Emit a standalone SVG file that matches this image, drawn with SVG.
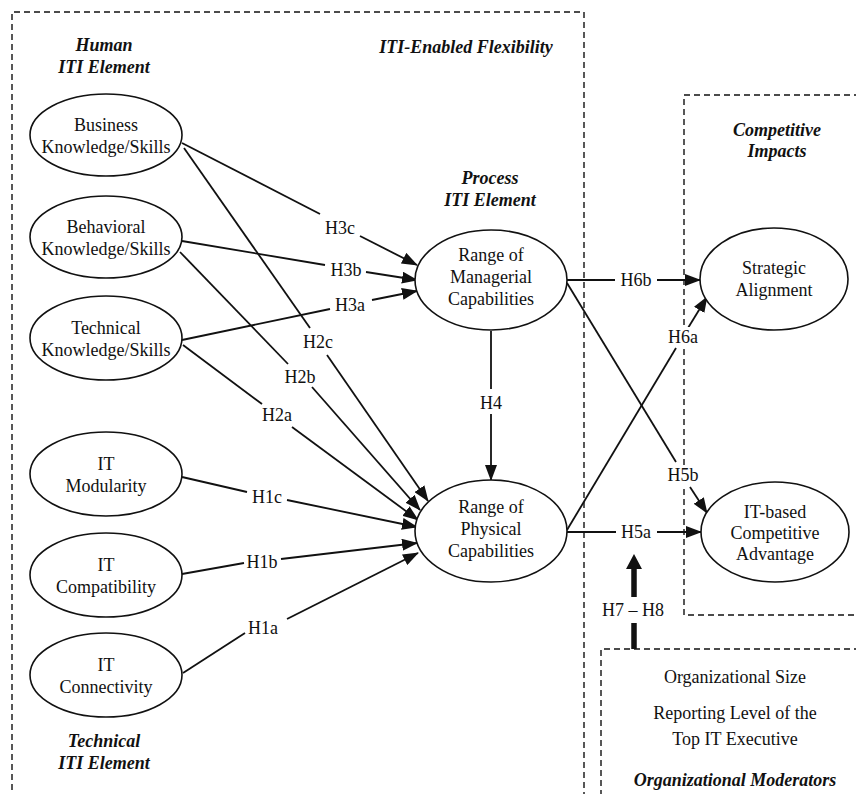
<svg xmlns="http://www.w3.org/2000/svg" width="856" height="794" viewBox="0 0 856 794">
<style>
text{font-family:"Liberation Serif","Times New Roman",serif;font-size:18px;fill:#111;text-anchor:middle}
.h{font-weight:bold;font-style:italic}
.node ellipse{fill:#fff;stroke:#111;stroke-width:1.6}
.box{fill:none;stroke:#111;stroke-width:1.4;stroke-dasharray:6 4}
#connectors line{stroke:#111;stroke-width:1.8}
.ar{marker-end:url(#arr)}
.bg{fill:#fff}
</style>
<defs>
<marker id="arr" markerUnits="userSpaceOnUse" markerWidth="16" markerHeight="12" viewBox="0 0 16 12" refX="15" refY="6" orient="auto">
<path d="M0,0 L16,6 L0,12 Z" fill="#111"/>
</marker>
</defs>
<rect width="856" height="794" fill="#fff"/>

<g id="frames">
<path class="box" d="M12,800 V12 H584 V800"/>
<path class="box" d="M860,95 H684 V615 H860"/>
<path class="box" d="M860,649 H601 V800"/>
</g>

<g id="headers">
<text class="h" x="104" y="51">Human</text>
<text class="h" x="104" y="73">ITI Element</text>
<text class="h" x="466" y="53">ITI-Enabled Flexibility</text>
<text class="h" x="490" y="184">Process</text>
<text class="h" x="490" y="206">ITI Element</text>
<text class="h" x="777" y="136">Competitive</text>
<text class="h" x="777" y="157">Impacts</text>
<text class="h" x="104" y="747">Technical</text>
<text class="h" x="104" y="769">ITI Element</text>
</g>

<g id="connectors">
<!-- H3 -->
<line x1="182" y1="143" x2="320" y2="214"/>
<line class="ar" x1="360" y1="236" x2="417" y2="265"/>
<line x1="182" y1="241" x2="325" y2="265"/>
<line class="ar" x1="366" y1="272" x2="417" y2="280"/>
<line x1="182" y1="340" x2="330" y2="309"/>
<line class="ar" x1="372" y1="300" x2="417" y2="291"/>
<!-- H2 -->
<line x1="184" y1="148" x2="310" y2="328"/>
<line class="ar" x1="327" y1="355" x2="428" y2="501"/>
<line x1="180" y1="252" x2="288" y2="364"/>
<line class="ar" x1="312" y1="387" x2="420" y2="510"/>
<line x1="183" y1="345" x2="262" y2="404"/>
<line class="ar" x1="292" y1="427" x2="418" y2="520"/>
<!-- H1 -->
<line x1="182" y1="477" x2="247" y2="492"/>
<line class="ar" x1="287" y1="500" x2="417" y2="527"/>
<line x1="182" y1="574" x2="244" y2="563"/>
<line class="ar" x1="281" y1="559" x2="417" y2="543"/>
<line x1="183" y1="673" x2="245" y2="633"/>
<line class="ar" x1="287" y1="619" x2="418" y2="553"/>
<!-- H4 -->
<line x1="491" y1="331" x2="491" y2="389"/>
<line class="ar" x1="491" y1="414" x2="491" y2="480"/>
<!-- H6b / H5a -->
<line x1="567" y1="280" x2="615" y2="280"/>
<line class="ar" x1="657" y1="280" x2="700" y2="280"/>
<line x1="567" y1="532" x2="616" y2="532"/>
<line class="ar" x1="657" y1="532" x2="701" y2="532"/>
<!-- H6a / H5b -->
<line x1="567" y1="530" x2="676" y2="348"/>
<line class="ar" x1="688" y1="328" x2="707" y2="297"/>
<line x1="567" y1="283" x2="676" y2="462"/>
<line class="ar" x1="690" y1="487" x2="707" y2="513"/>
<!-- H7-H8 moderator arrow -->
<line x1="634" y1="623" x2="634" y2="649" style="stroke-width:5.5"/>
<line x1="634" y1="597" x2="634" y2="566" style="stroke-width:5.5"/>
<path d="M626,569 L634,554 L642,569 Z" fill="#111"/>
</g>

<g id="labels">
<rect class="bg" x="669" y="327" width="29" height="20"/>
<rect class="bg" x="668" y="465" width="31" height="20"/>
<text x="340" y="234">H3c</text>
<text x="346" y="276">H3b</text>
<text x="350" y="311">H3a</text>
<text x="318" y="348">H2c</text>
<text x="300" y="383">H2b</text>
<text x="277" y="421">H2a</text>
<text x="267" y="503">H1c</text>
<text x="262" y="568">H1b</text>
<text x="263" y="634">H1a</text>
<text x="491" y="409">H4</text>
<text x="636" y="286">H6b</text>
<text x="636" y="538">H5a</text>
<text x="683" y="343">H6a</text>
<text x="683" y="481">H5b</text>
<text x="633" y="616">H7 – H8</text>
</g>

<g id="business" class="node"><ellipse cx="106" cy="135" rx="76" ry="41"/><text x="106" y="131">Business</text><text x="106" y="153">Knowledge/Skills</text></g>
<g id="behavioral" class="node"><ellipse cx="106" cy="237" rx="76" ry="41"/><text x="106" y="233">Behavioral</text><text x="106" y="255">Knowledge/Skills</text></g>
<g id="technical" class="node"><ellipse cx="106" cy="338" rx="76" ry="42"/><text x="106" y="334">Technical</text><text x="106" y="356">Knowledge/Skills</text></g>
<g id="modularity" class="node"><ellipse cx="106" cy="474" rx="76" ry="42"/><text x="106" y="470">IT</text><text x="106" y="492">Modularity</text></g>
<g id="compatibility" class="node"><ellipse cx="106" cy="575" rx="76" ry="42"/><text x="106" y="571">IT</text><text x="106" y="593">Compatibility</text></g>
<g id="connectivity" class="node"><ellipse cx="106" cy="675" rx="76" ry="42"/><text x="106" y="671">IT</text><text x="106" y="693">Connectivity</text></g>

<g id="managerial" class="node"><ellipse cx="491" cy="280" rx="76" ry="50"/><text x="491" y="261">Range of</text><text x="491" y="283">Managerial</text><text x="491" y="305">Capabilities</text></g>
<g id="physical" class="node"><ellipse cx="491" cy="531" rx="76" ry="51"/><text x="491" y="513">Range of</text><text x="491" y="535">Physical</text><text x="491" y="557">Capabilities</text></g>

<g id="strategic" class="node"><ellipse cx="774" cy="279" rx="74" ry="51"/><text x="774" y="274">Strategic</text><text x="774" y="296">Alignment</text></g>
<g id="advantage" class="node"><ellipse cx="775" cy="532" rx="74" ry="50"/><text x="775" y="518">IT-based</text><text x="775" y="539">Competitive</text><text x="775" y="560">Advantage</text></g>

<g id="moderators">
<text x="735" y="683">Organizational Size</text>
<text x="735" y="719">Reporting Level of the</text>
<text x="735" y="745">Top IT Executive</text>
<text class="h" x="735" y="786">Organizational Moderators</text>
</g>
</svg>
